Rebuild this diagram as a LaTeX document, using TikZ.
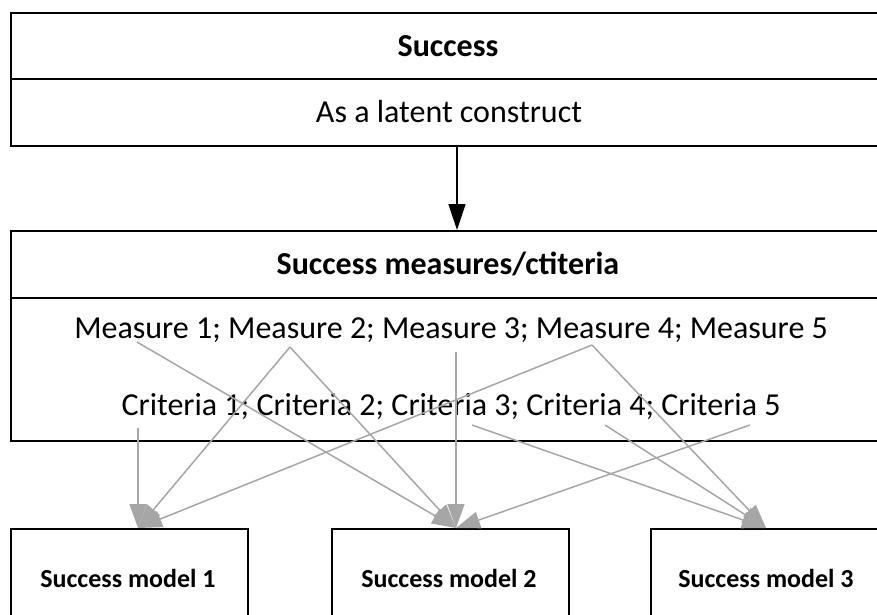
\documentclass[tikz,border=0pt]{standalone}
\usepackage{fontspec}
\setmainfont{Carlito}
\usetikzlibrary{arrows.meta}
\definecolor{arrgray}{HTML}{A6A6A6}
\tikzset{
  boxline/.style={draw=black, line width=1.6pt, inner sep=0pt, anchor=north west},
  plain/.style={inner sep=0pt},
  grayarrow/.style={draw=arrgray, line width=1.5pt, -{Triangle[length=24pt,width=17pt]}},
  blackarrow/.style={draw=black, line width=1.5pt, -{Triangle[length=26pt,width=17pt]}},
  bigtext/.style={font=\fontsize{32}{38}\selectfont},
  bigbold/.style={font=\fontsize{32}{38}\selectfont\bfseries},
  smalltext/.style={font=\fontsize{26}{30}\selectfont\bfseries}
}
\begin{document}
\begin{tikzpicture}[x=1pt,y=-1pt]
\useasboundingbox (0,0) rectangle (877,614);
\clip (0,0) rectangle (877,614);
% top box
\node[boxline, minimum width=900pt, minimum height=66pt] (succ) at (10,12) {};
\node[boxline, minimum width=900pt, minimum height=67pt] (latent) at (10,78) {};
\node[plain, bigbold] (succtxt) at (448,46) {Success};
\node[plain, bigtext] (latenttxt) at (449,112) {As a latent construct};
% middle box
\node[boxline, minimum width=900pt, minimum height=67pt] (meas) at (10,230) {};
\node[boxline, minimum width=900pt, minimum height=143pt] (measbody) at (10,297) {};
\node[plain, bigbold] (meastxt) at (448,264) {Success measures/ctiteria};
\node[plain, bigtext] (mline) at (451,330) {Measure 1; Measure 2; Measure 3; Measure 4; Measure 5};
\node[plain, bigtext] (cline) at (451,407) {Criteria 1; Criteria 2; Criteria 3; Criteria 4; Criteria 5};
% bottom boxes
\node[boxline, minimum width=237pt, minimum height=120pt] (m1) at (10,528) {};
\node[boxline, minimum width=237pt, minimum height=120pt] (m2) at (331,528) {};
\node[boxline, minimum width=260pt, minimum height=120pt] (m3) at (650,528) {};
\node[plain, smalltext] (m1t) at (128,578) {Success model 1};
\node[plain, smalltext] (m2t) at (449,578) {Success model 2};
\node[plain, smalltext] (m3t) at (766,578) {Success model 3};
% connector points
\coordinate (t1) at (138,528);
\coordinate (t2) at (456,528);
\coordinate (t3) at (766,528);
\coordinate (sM1) at (137,342);
\coordinate (sM2) at (290,347);
\coordinate (sM3) at (456,352);
\coordinate (sM4) at (592,345);
\coordinate (sC1) at (138,428);
\coordinate (sC3) at (472,425);
\coordinate (sC4) at (605,425);
\coordinate (sC5) at (750,425);
\coordinate (topsrc) at (457,145);
\coordinate (toptgt) at (457,230);
% connectors
\draw[blackarrow] (topsrc) -- (toptgt);
\draw[grayarrow] (sC1) -- (t1);
\draw[grayarrow] (sM2) -- (t1);
\draw[grayarrow] (sM4) -- (t1);
\draw[grayarrow] (sM1) -- (t2);
\draw[grayarrow] (sM2) -- (t2);
\draw[grayarrow] (sM3) -- (t2);
\draw[grayarrow] (sC5) -- (t2);
\draw[grayarrow] (sM4) -- (t3);
\draw[grayarrow] (sC3) -- (t3);
\draw[grayarrow] (sC4) -- (t3);
\end{tikzpicture}
\end{document}
